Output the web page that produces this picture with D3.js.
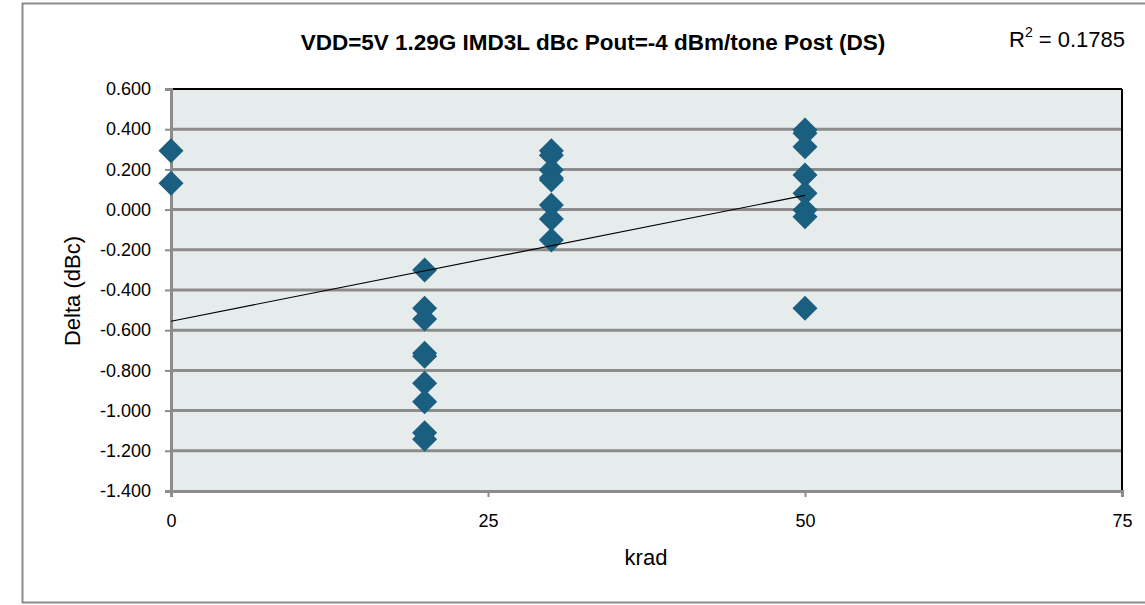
<!DOCTYPE html>
<html>
<head>
<meta charset="utf-8">
<script src="https://cdn.jsdelivr.net/npm/d3@7"></script>
<style>
  body { margin: 0; background: #fff; }
  svg text { font-family: "Liberation Sans", Arial, sans-serif; fill: #000; }
</style>
</head>
<body>
<script>
const width = 1145;
const height = 605;

// krad dose groups and measured deltas (dBc)
const x0 = [0, 0];
const y0 = [0.293, 0.131];
const x20 = [20, 20, 20, 20, 20, 20, 20, 20, 20];
const y20 = [-0.300, -0.491, -0.544, -0.715, -0.730, -0.864, -0.956, -1.110, -1.143];
const x30 = [30, 30, 30, 30, 30, 30, 30, 30];
const y30 = [0.293, 0.270, 0.197, 0.157, 0.147, 0.023, -0.047, -0.151];
const x50 = [50, 50, 50, 50, 50, 50, 50, 50];
const y50 = [0.396, 0.380, 0.313, 0.172, 0.081, -0.002, -0.035, -0.491];

const xTicks = [0, 25, 50, 75];
const yTicks = [0.6, 0.4, 0.2, 0, -0.2, -0.4, -0.6, -0.8, -1.0, -1.2, -1.4];

const titleText = 'VDD=5V 1.29G IMD3L dBc Pout=-4 dBm/tone Post (DS)';
const r2Text = '0.1785';

const data = [];
[[x0, y0], [x20, y20], [x30, y30], [x50, y50]].forEach(([xs, ys]) => {
    for (let i = 0; i < xs.length; i++) data.push({ x: xs[i], y: ys[i] });
});

const plot = { left: 171, right: 1122, top: 89, bottom: 491 };

const svg = d3.select('body').append('svg')
    .attr('width', width)
    .attr('height', height);

// outer chart frame
svg.append('rect')
    .attr('x', 22.5).attr('y', 3.5)
    .attr('width', width + 10).attr('height', 599)
    .attr('fill', '#fff')
    .attr('stroke', '#8c8c8c')
    .attr('stroke-width', 2);

const xScale = d3.scaleLinear().domain([0, 75]).range([plot.left, plot.right]);
const yScale = d3.scaleLinear().domain([-1.4, 0.6]).range([plot.bottom, plot.top]);

// plot background
svg.append('rect')
    .attr('x', plot.left).attr('y', plot.top)
    .attr('width', plot.right - plot.left)
    .attr('height', plot.bottom - plot.top)
    .attr('fill', '#e6ecec');

// horizontal grid lines
svg.append('g').selectAll('line')
    .data(yTicks.slice(1, -1))
    .enter().append('line')
    .attr('x1', plot.left).attr('x2', plot.right)
    .attr('y1', d => yScale(d)).attr('y2', d => yScale(d))
    .attr('stroke', '#8c8c8c')
    .attr('stroke-width', 3);

// plot border: top/right black, left/bottom gray
svg.append('line')
    .attr('x1', plot.left).attr('x2', plot.right)
    .attr('y1', plot.top).attr('y2', plot.top)
    .attr('stroke', '#000').attr('stroke-width', 2);
svg.append('line')
    .attr('x1', plot.right).attr('x2', plot.right)
    .attr('y1', plot.top).attr('y2', plot.bottom)
    .attr('stroke', '#000').attr('stroke-width', 2);

const fmt3 = d3.format('.3f');
const yAxis = d3.axisLeft(yScale)
    .tickValues(yTicks)
    .tickFormat(d => fmt3(d).replace('\u2212', '-'))
    .tickSize(6)
    .tickPadding(14);
const xAxis = d3.axisBottom(xScale)
    .tickValues(xTicks)
    .tickFormat(d3.format('d'))
    .tickSize(6)
    .tickPadding(17);

const gy = svg.append('g')
    .attr('transform', 'translate(' + plot.left + ',0)')
    .call(yAxis);
const gx = svg.append('g')
    .attr('transform', 'translate(0,' + plot.bottom + ')')
    .call(xAxis);

[gx, gy].forEach(g => {
    g.select('.domain').attr('stroke', '#8c8c8c').attr('stroke-width', 3);
    g.selectAll('.tick line').attr('stroke', '#8c8c8c').attr('stroke-width', 2);
    g.selectAll('.tick text')
        .style('font-size', '18px')
        .style('font-family', '"Liberation Sans", Arial, sans-serif')
        .attr('fill', '#000');
});

// linear trend line from least squares
const mx = d3.mean(data, d => d.x);
const my = d3.mean(data, d => d.y);
const sxy = d3.sum(data, d => (d.x - mx) * (d.y - my));
const sxx = d3.sum(data, d => (d.x - mx) * (d.x - mx));
const slope = sxy / sxx;
const intercept = my - slope * mx;
const xExt = d3.extent(data, d => d.x);

// markers
const half = 12.5;
svg.append('g').selectAll('path')
    .data(data)
    .enter().append('path')
    .attr('d', d => {
        const cx = xScale(d.x), cy = yScale(d.y);
        return 'M' + cx + ',' + (cy - half) + 'L' + (cx + half) + ',' + cy +
            'L' + cx + ',' + (cy + half) + 'L' + (cx - half) + ',' + cy + 'Z';
    })
    .attr('fill', '#1a5e80');

svg.append('line')
    .attr('x1', xScale(xExt[0])).attr('y1', yScale(intercept + slope * xExt[0]))
    .attr('x2', xScale(xExt[1])).attr('y2', yScale(intercept + slope * xExt[1]))
    .attr('stroke', '#000')
    .attr('stroke-width', 1.2);

// title
svg.append('text')
    .attr('x', 593).attr('y', 50)
    .attr('text-anchor', 'middle')
    .style('font-size', '22.5px')
    .style('font-weight', 'bold')
    .text(titleText);

// R² label
const r2 = svg.append('text')
    .attr('x', 1009).attr('y', 47)
    .style('font-size', '22px');
r2.append('tspan').text('R');
r2.append('tspan').attr('dy', -10).style('font-size', '14px').text('2');
r2.append('tspan').attr('dy', 10).text(' = ' + r2Text);

// axis titles
svg.append('text')
    .attr('transform', 'translate(80,291) rotate(-90)')
    .attr('text-anchor', 'middle')
    .style('font-size', '22px')
    .text('Delta (dBc)');

svg.append('text')
    .attr('x', 646).attr('y', 565)
    .attr('text-anchor', 'middle')
    .style('font-size', '22px')
    .text('krad');
</script>
</body>
</html>
